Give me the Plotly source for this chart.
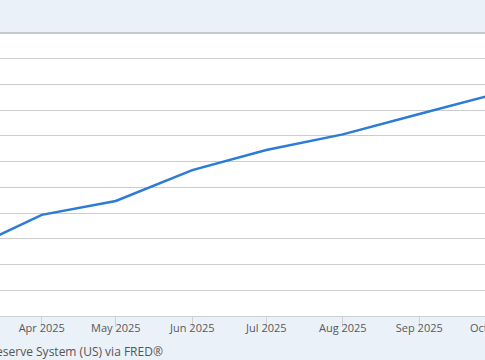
import pandas as pd
import plotly.graph_objects as go

months = ["2025-03-01", "2025-04-01", "2025-05-01", "2025-06-01", "2025-07-01",
          "2025-08-01", "2025-09-01", "2025-10-01"]
values = [21652, 21793, 21847, 21967, 22045, 22106, 22185, 22261]

tick_dates = ["2025-04-01", "2025-05-01", "2025-06-01", "2025-07-01",
              "2025-08-01", "2025-09-01", "2025-10-01"]
tick_labels = ["Apr 2025", "May 2025", "Jun 2025", "Jul 2025",
               "Aug 2025", "Sep 2025", "Oct 2025"]

source_text = "Source: Board of Governors of the Federal Reserve System (US) via FRED®"

x_range = ["2025-03-15 02:00", "2025-09-27 15:00"]

fig = go.Figure()
fig.add_trace(go.Scatter(
    x=months, y=values, mode="lines",
    line=dict(color="#2c7bd6", width=2.5),
    hoverinfo="skip", showlegend=False,
))

# the last tick label falls just past the visible range; place it as paper text
r0, r1 = pd.Timestamp(x_range[0]), pd.Timestamp(x_range[1])
last_frac = (pd.Timestamp(tick_dates[-1]) - r0) / (r1 - r0)

fig.update_layout(
    width=485, height=360,
    margin=dict(l=0, r=0, t=33, b=44, pad=0),
    paper_bgcolor="#eaf1f9",
    plot_bgcolor="#ffffff",
    font=dict(family="Open Sans", size=11, color="#595959"),
    xaxis=dict(
        range=x_range,
        tickmode="array", tickvals=tick_dates, ticktext=tick_labels,
        showgrid=False, showline=True, linecolor="#d0d0d0", linewidth=1,
        ticks="outside", ticklen=10, tickcolor="#d0d0d0", tickwidth=1,
        ticklabelstandoff=-8,
        zeroline=False, fixedrange=True,
    ),
    yaxis=dict(
        range=[21399.95, 22500.05], dtick=100, tick0=21400,
        showgrid=True, gridcolor="#cccccc", gridwidth=1,
        showticklabels=False, ticks="", zeroline=False, showline=False,
        fixedrange=True,
    ),
    shapes=[dict(type="line", xref="paper", yref="paper", x0=0, x1=1, y0=1, y1=1,
                 line=dict(color="#c3c9cf", width=2), layer="above")],
    annotations=[
        dict(text=source_text, xref="paper", yref="paper",
             x=165 / 485, y=-0.127, xanchor="right", yanchor="middle",
             showarrow=False, font=dict(family="Open Sans", size=12, color="#555555")),
        dict(text=tick_labels[-1], xref="paper", yref="paper",
             x=last_frac, y=-0.04, xanchor="center", yanchor="middle",
             showarrow=False, font=dict(family="Open Sans", size=11, color="#595959")),
    ],
)

fig.write_html(
    "out.html",
    config={"displayModeBar": False, "staticPlot": True},
    post_script="document.body.style.margin='0';document.body.style.overflow='hidden';",
)
